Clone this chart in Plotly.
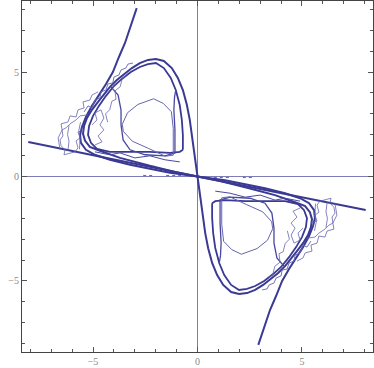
import plotly.graph_objects as go

# Straight line through the origin
line_x = [-8.1, 0.0, 8.05]
line_y = [1.65, 0.0, -1.6]

# Upper-left curves (the chart is point-symmetric; lower-right = (-x, -y))
cusp_x = [-2.91, -3.19, -3.47, -3.76, -4.05, -4.38, -4.72, -5.05, -5.34, -5.53, -5.62, -5.58, -5.34, -4.91, -4.19, -3.23, -2.28, -1.32, 0.0]
cusp_y = [8.06, 7.25, 6.39, 5.72, 5.00, 4.43, 3.90, 3.38, 2.85, 2.37, 1.99, 1.61, 1.28, 1.04, 0.80, 0.56, 0.37, 0.18, 0.0]

outer_x = [0.0, -0.08, -0.18, -0.27, -0.37, -0.51, -0.70, -0.94, -1.23, -1.61, -1.99, -2.37, -2.76, -3.14, -3.52, -3.86, -4.19, -4.48, -4.76, -5.05, -5.29, -5.43, -5.48, -5.38, -5.15, -4.67, -3.71, -2.28, -1.08, 0.0]
outer_y = [0.0, 0.56, 1.28, 1.99, 2.71, 3.43, 4.14, 4.72, 5.19, 5.53, 5.62, 5.58, 5.43, 5.19, 4.91, 4.62, 4.29, 3.95, 3.57, 3.19, 2.80, 2.42, 2.04, 1.71, 1.42, 1.23, 0.89, 0.51, 0.22, 0.0]

inner_x = [-0.70, -0.70, -0.75, -0.85, -1.04, -1.28, -1.61, -1.99, -2.37, -2.76, -3.19, -3.62, -4.00, -4.38, -4.72, -5.00, -5.19, -5.24, -5.10, -4.81, -4.19, -3.23, -2.28, -1.32, -0.85, -0.70]
inner_y = [1.28, 1.99, 2.71, 3.42, 4.14, 4.72, 5.19, 5.43, 5.38, 5.24, 5.00, 4.67, 4.33, 3.86, 3.38, 2.90, 2.42, 1.99, 1.61, 1.32, 1.18, 1.18, 1.18, 1.13, 1.18, 1.28]

medium_x = [-4.15, -3.80, -3.66, -3.66, -3.56, -3.23, -2.51, -1.56, -1.08, -1.08, -1.13, -1.10, -1.04]
medium_y = [4.30, 3.90, 3.18, 2.47, 1.75, 1.28, 1.04, 0.99, 1.13, 2.23, 3.18, 3.80, 4.14]

thin_x = [-1.16, -1.54, -2.36, -3.12, -3.55, -3.60, -3.35, -2.85, -2.10, -1.64, -1.25, -1.16, -1.16]
thin_y = [1.02, 0.97, 1.35, 1.69, 2.16, 2.50, 3.05, 3.45, 3.72, 3.50, 3.10, 2.30, 1.02]

noise1_x = [-5.24, -5.62, -5.81, -6.10, -6.29, -6.48, -6.44, -6.58, -6.53, -6.34, -6.39, -6.10, -5.86, -5.72, -5.81, -5.62, -5.72, -5.43]
noise1_y = [2.95, 2.90, 2.71, 2.52, 2.33, 2.23, 1.94, 1.75, 1.47, 1.28, 1.04, 1.13, 1.18, 1.37, 1.71, 1.85, 2.13, 2.23]

noise2_x = [-5.43, -5.24, -5.05, -4.91, -4.67, -4.62, -4.38, -4.29, -4.05, -4.00, -3.76, -3.66, -3.43, -3.33, -3.09]
noise2_y = [3.09, 3.38, 3.28, 3.66, 3.76, 4.05, 4.14, 4.43, 4.48, 4.76, 4.86, 5.10, 5.19, 5.38, 5.43]

noise3_x = [-5.05, -4.81, -4.91, -4.62, -4.48, -4.67, -4.48, -4.76, -4.57, -4.91]
noise3_y = [2.47, 2.71, 3.04, 3.19, 2.80, 2.47, 2.23, 1.94, 1.66, 1.51]

noise4_x = [-4.91, -4.19, -3.71, -3.00, -2.28, -1.56, -0.85]
noise4_y = [1.18, 1.04, 1.13, 0.89, 0.99, 0.80, 0.70]

noise5_x = [-6.58, -6.67, -6.48, -6.53, -6.20, -6.10, -5.81, -5.72, -5.43, -5.48, -5.15, -5.05, -4.76]
noise5_y = [1.28, 1.85, 2.23, 2.52, 2.61, 2.90, 2.85, 3.19, 3.28, 3.57, 3.66, 3.90, 4.05]

noise6_x = [-6.20, -6.15, -6.22, -6.15, None, -5.65, -5.62, -5.68, -5.60]
noise6_y = [1.25, 1.70, 2.00, 2.45, None, 1.30, 1.80, 2.20, 2.60]

noise7_x = [-4.30, -4.40, -4.20, -4.10, -3.90, -3.95, -3.70, -3.60, -3.40]
noise7_y = [2.60, 3.00, 3.20, 3.60, 3.70, 4.10, 4.30, 4.70, 4.85]

dots_x = [-2.6, -2.1, None, -1.5, -0.6]
dots_y = [0.05, 0.05, None, 0.05, 0.05]

DARK = "#3a3a94"
MID = "#4848a0"
LIGHT = "#6464b0"

def neg(v):
    return [None if a is None else -a for a in v]

curves = [
    (cusp_x, cusp_y, DARK, 2.0),
    (outer_x, outer_y, DARK, 2.0),
    (inner_x, inner_y, DARK, 1.8),
    (medium_x, medium_y, MID, 1.3),
    (thin_x, thin_y, LIGHT, 1.0),
    (noise1_x, noise1_y, LIGHT, 0.8),
    (noise2_x, noise2_y, LIGHT, 0.9),
    (noise3_x, noise3_y, LIGHT, 0.8),
    (noise4_x, noise4_y, MID, 1.0),
    (noise5_x, noise5_y, LIGHT, 0.8),
    (noise6_x, noise6_y, LIGHT, 0.8),
    (noise7_x, noise7_y, LIGHT, 0.8),
]

fig = go.Figure()
fig.add_trace(go.Scatter(x=line_x, y=line_y, mode="lines",
                         line=dict(color=DARK, width=2.0), hoverinfo="skip"))
for xs, ys, c, w in curves:
    for sx, sy in ((xs, ys), (neg(xs), neg(ys))):
        fig.add_trace(go.Scatter(x=sx, y=sy, mode="lines",
                                 line=dict(color=c, width=w), hoverinfo="skip"))
for sx, sy in ((dots_x, dots_y), (neg(dots_x), neg(dots_y))):
    fig.add_trace(go.Scatter(x=sx, y=sy, mode="lines",
                             line=dict(color=LIGHT, width=1, dash="dot"), hoverinfo="skip"))

axis_common = dict(
    range=[-8.4, 8.4], showgrid=False, zeroline=True, zerolinecolor="#7c7cb8",
    zerolinewidth=1, showline=True, linecolor="#444444", linewidth=1, mirror="ticks",
    ticks="inside", ticklen=5, tickcolor="#555555", dtick=5, tick0=0,
    minor=dict(dtick=1, ticks="inside", ticklen=3, tickcolor="#555555"),
    tickfont=dict(family="Liberation Serif", size=10, color="#888888"),
    fixedrange=True, automargin=False,
)
fig.update_xaxes(**axis_common)
fig.update_yaxes(**axis_common)
fig.update_layout(
    width=374, height=368, showlegend=False,
    margin=dict(l=22, r=1, t=1, b=16),
    plot_bgcolor="white", paper_bgcolor="white",
)
fig.write_html("out.html", config={"displayModeBar": False},
               post_script="document.body.style.margin='0px';")
